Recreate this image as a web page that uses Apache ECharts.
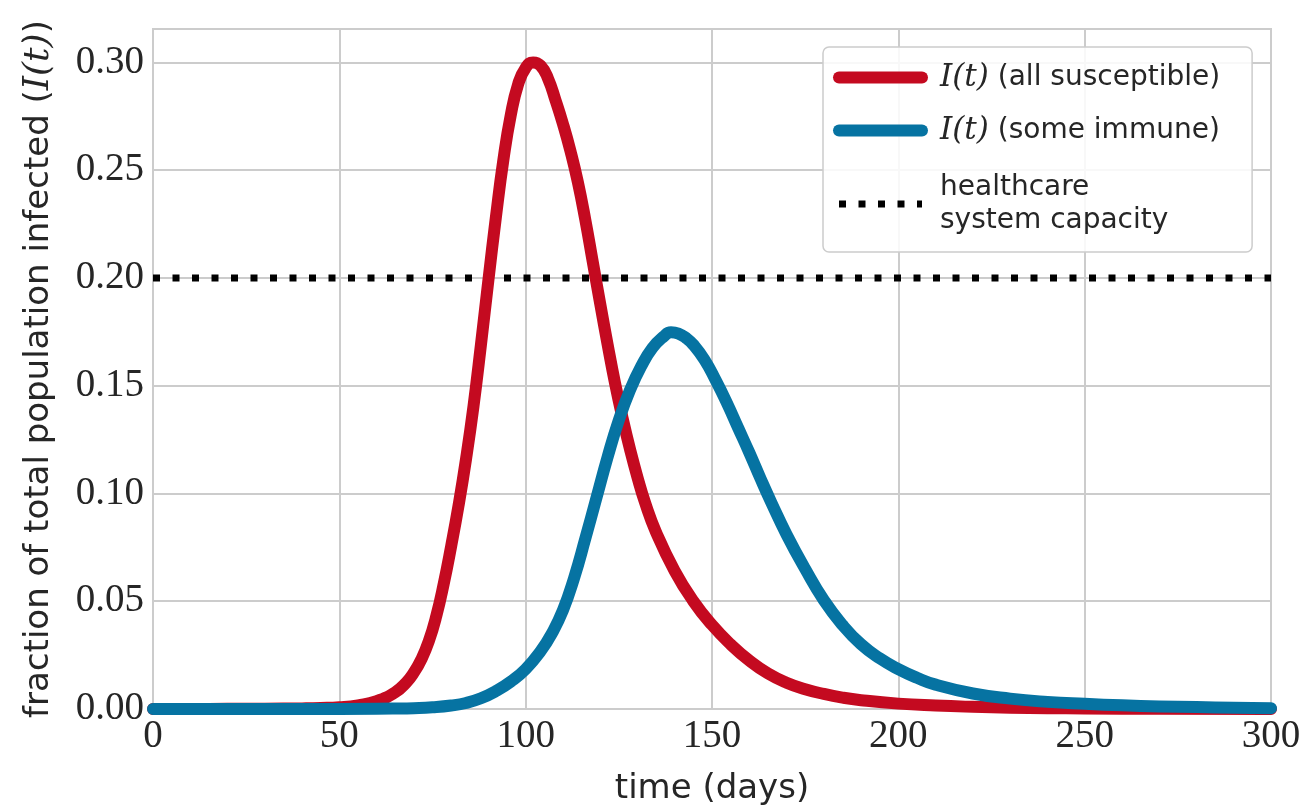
<!DOCTYPE html>
<html>
<head>
<meta charset="utf-8">
<script src="https://cdn.jsdelivr.net/npm/echarts@6/dist/echarts.min.js"></script>
<style>
  html, body { margin: 0; padding: 0; background: #fff; }
  #sirChart { width: 1307px; height: 812px; }
</style>
</head>
<body>
<div id="sirChart"></div>
<script>
// I(t), all susceptible
const tRed = [0, 10, 20, 30, 40, 45, 50, 55, 60, 65, 68, 70, 72, 74, 76, 78, 80, 82, 84, 86, 88, 90, 92, 94, 96, 98, 100, 102, 104, 106, 108, 110, 112, 114, 116, 118, 120, 122, 124, 126, 128, 130, 132, 135, 140, 145, 150, 155, 160, 165, 170, 175, 180, 185, 190, 200, 210, 220, 230, 240, 250, 270, 300]
const iRed = [0.00001, 0.00003, 0.00006, 0.00012, 0.00028, 0.00045, 0.0008, 0.0017, 0.0036, 0.0078, 0.0124, 0.0169, 0.0230, 0.0314, 0.0430, 0.0580, 0.0755, 0.0945, 0.1160, 0.1405, 0.1690, 0.1990, 0.2280, 0.2545, 0.2755, 0.2900, 0.2975, 0.3000, 0.2985, 0.2925, 0.2825, 0.2715, 0.2590, 0.2445, 0.2270, 0.2075, 0.1880, 0.1690, 0.1510, 0.1350, 0.1205, 0.1075, 0.0960, 0.0820, 0.0640, 0.0500, 0.0390, 0.0300, 0.0225, 0.0165, 0.0122, 0.0092, 0.0070, 0.0053, 0.0041, 0.0025, 0.0016, 0.0010, 0.0006, 0.0004, 0.00025, 0.0001, 0.00003]

// I(t), some immune
const tBlue = [0, 20, 40, 60, 65, 70, 75, 80, 84, 88, 92, 96, 100, 104, 107, 110, 113, 116, 119, 122, 125, 128, 131, 134, 137, 139, 141, 143, 145, 148, 151, 154, 157, 160, 163, 166, 170, 175, 180, 185, 190, 195, 200, 205, 210, 220, 230, 240, 250, 260, 270, 280, 290, 300]
const iBlue = [0, 0.000005, 0.00002, 0.0001, 0.0002, 0.0004, 0.0008, 0.0016, 0.0028, 0.0050, 0.0083, 0.0127, 0.0185, 0.0268, 0.0350, 0.0458, 0.0608, 0.0790, 0.0980, 0.1170, 0.1340, 0.1480, 0.1590, 0.1675, 0.1728, 0.1748, 0.1742, 0.1722, 0.1690, 0.1620, 0.1525, 0.1420, 0.1305, 0.1190, 0.1070, 0.0955, 0.0810, 0.0650, 0.0505, 0.0390, 0.0300, 0.0235, 0.0185, 0.0145, 0.0113, 0.0072, 0.0048, 0.0033, 0.0024, 0.0017, 0.0012, 0.0009, 0.0006, 0.0004]

// healthcare system capacity
const tCap = [0, 300]
const iCap = [0.2, 0.2]

const xTicks = [0, 50, 100, 150, 200, 250, 300]
const yTicks = [0, 0.05, 0.10, 0.15, 0.20, 0.25, 0.30]

const RED = '#c40a20'
const BLUE = '#0673a2'
const GRID = '#cccccc'
const TEXT = '#262626'
const SANS = 'DejaVu Sans'
const SERIF = 'Liberation Serif'
const MATH = 'DejaVu Serif'
const DOTS = [7, 12.5]

const pairs = (xs, ys) => xs.map((x, i) => [x, ys[i]])

const chart = echarts.init(document.getElementById('sirChart'))

const legendText = {
  red: '{m|I(t)} (all susceptible)',
  blue: '{m|I(t)} (some immune)',
  cap: 'healthcare\nsystem capacity'
}
const mathStyle = { fontFamily: MATH, fontStyle: 'italic', fontSize: 31, lineHeight: 33, color: TEXT }

chart.setOption({
  animation: false,
  grid: {
    left: 153,
    right: 36,
    top: 29,
    bottom: 103,
    show: true,
    borderColor: GRID,
    borderWidth: 2
  },
  xAxis: {
    type: 'value',
    min: 0,
    max: 300,
    interval: 50,
    name: 'time (days)',
    nameLocation: 'middle',
    nameGap: 63,
    nameTextStyle: { fontFamily: SANS, fontSize: 34, color: TEXT },
    axisLine: { lineStyle: { color: GRID, width: 2 } },
    axisTick: { show: false },
    splitLine: { lineStyle: { color: GRID, width: 2 } },
    axisLabel: {
      margin: 8,
      fontFamily: SERIF,
      fontSize: 39,
      color: TEXT,
      formatter: v => (xTicks.includes(v) ? String(v) : '')
    }
  },
  yAxis: {
    type: 'value',
    min: 0,
    max: 0.3155,
    interval: 0.05,
    name: 'fraction of total population infected ({m|I(t)})',
    nameLocation: 'middle',
    nameRotate: 90,
    nameGap: 96,
    nameTextStyle: {
      fontFamily: SANS,
      fontSize: 34,
      color: TEXT,
      rich: { m: { fontFamily: MATH, fontStyle: 'italic', fontSize: 36, color: TEXT } }
    },
    axisLine: { show: true, lineStyle: { color: GRID, width: 2 } },
    axisTick: { show: false },
    splitLine: { lineStyle: { color: GRID, width: 2 } },
    axisLabel: {
      margin: 9,
      showMaxLabel: false,
      fontFamily: SERIF,
      fontSize: 39,
      color: TEXT,
      formatter: v => {
        const hit = yTicks.find(t => Math.abs(t - v) < 1e-9)
        return hit === undefined ? '' : hit.toFixed(2)
      }
    }
  },
  legend: {
    orient: 'vertical',
    left: 823,
    top: 47,
    padding: [14, 32, 11, 10],
    itemGap: 20,
    itemWidth: 83,
    itemHeight: 14,
    backgroundColor: 'rgba(255,255,255,0.85)',
    borderColor: GRID,
    borderWidth: 1.5,
    borderRadius: 6,
    formatter: name => legendText[name],
    textStyle: {
      fontFamily: SANS,
      fontSize: 28,
      color: TEXT,
      lineHeight: 33,
      padding: [0, 0, 0, 13],
      rich: { m: mathStyle }
    },
    data: [
      { name: 'red', itemStyle: { opacity: 0 }, lineStyle: { color: RED, width: 12, cap: 'round' } },
      { name: 'blue', itemStyle: { opacity: 0 }, lineStyle: { color: BLUE, width: 12, cap: 'round' } },
      {
        name: 'cap',
        itemStyle: { opacity: 0 },
        lineStyle: { color: '#000', width: 7, type: DOTS, cap: 'butt' },
        textStyle: { padding: [4, 0, 4, 13] }
      }
    ]
  },
  series: [
    {
      name: 'cap',
      type: 'line',
      data: pairs(tCap, iCap),
      showSymbol: false,
      symbol: 'none',
      silent: true,
      z: 3,
      itemStyle: { color: '#000' },
      lineStyle: { color: '#000', width: 7, type: DOTS, cap: 'butt' }
    },
    {
      name: 'red',
      type: 'line',
      data: pairs(tRed, iRed),
      smooth: 0.5,
      showSymbol: false,
      symbol: 'none',
      z: 4,
      itemStyle: { color: RED },
      lineStyle: { color: RED, width: 12, cap: 'round', join: 'round' }
    },
    {
      name: 'blue',
      type: 'line',
      data: pairs(tBlue, iBlue),
      smooth: 0.5,
      showSymbol: false,
      symbol: 'none',
      z: 5,
      itemStyle: { color: BLUE },
      lineStyle: { color: BLUE, width: 12, cap: 'round', join: 'round' }
    }
  ]
})
</script>
</body>
</html>
